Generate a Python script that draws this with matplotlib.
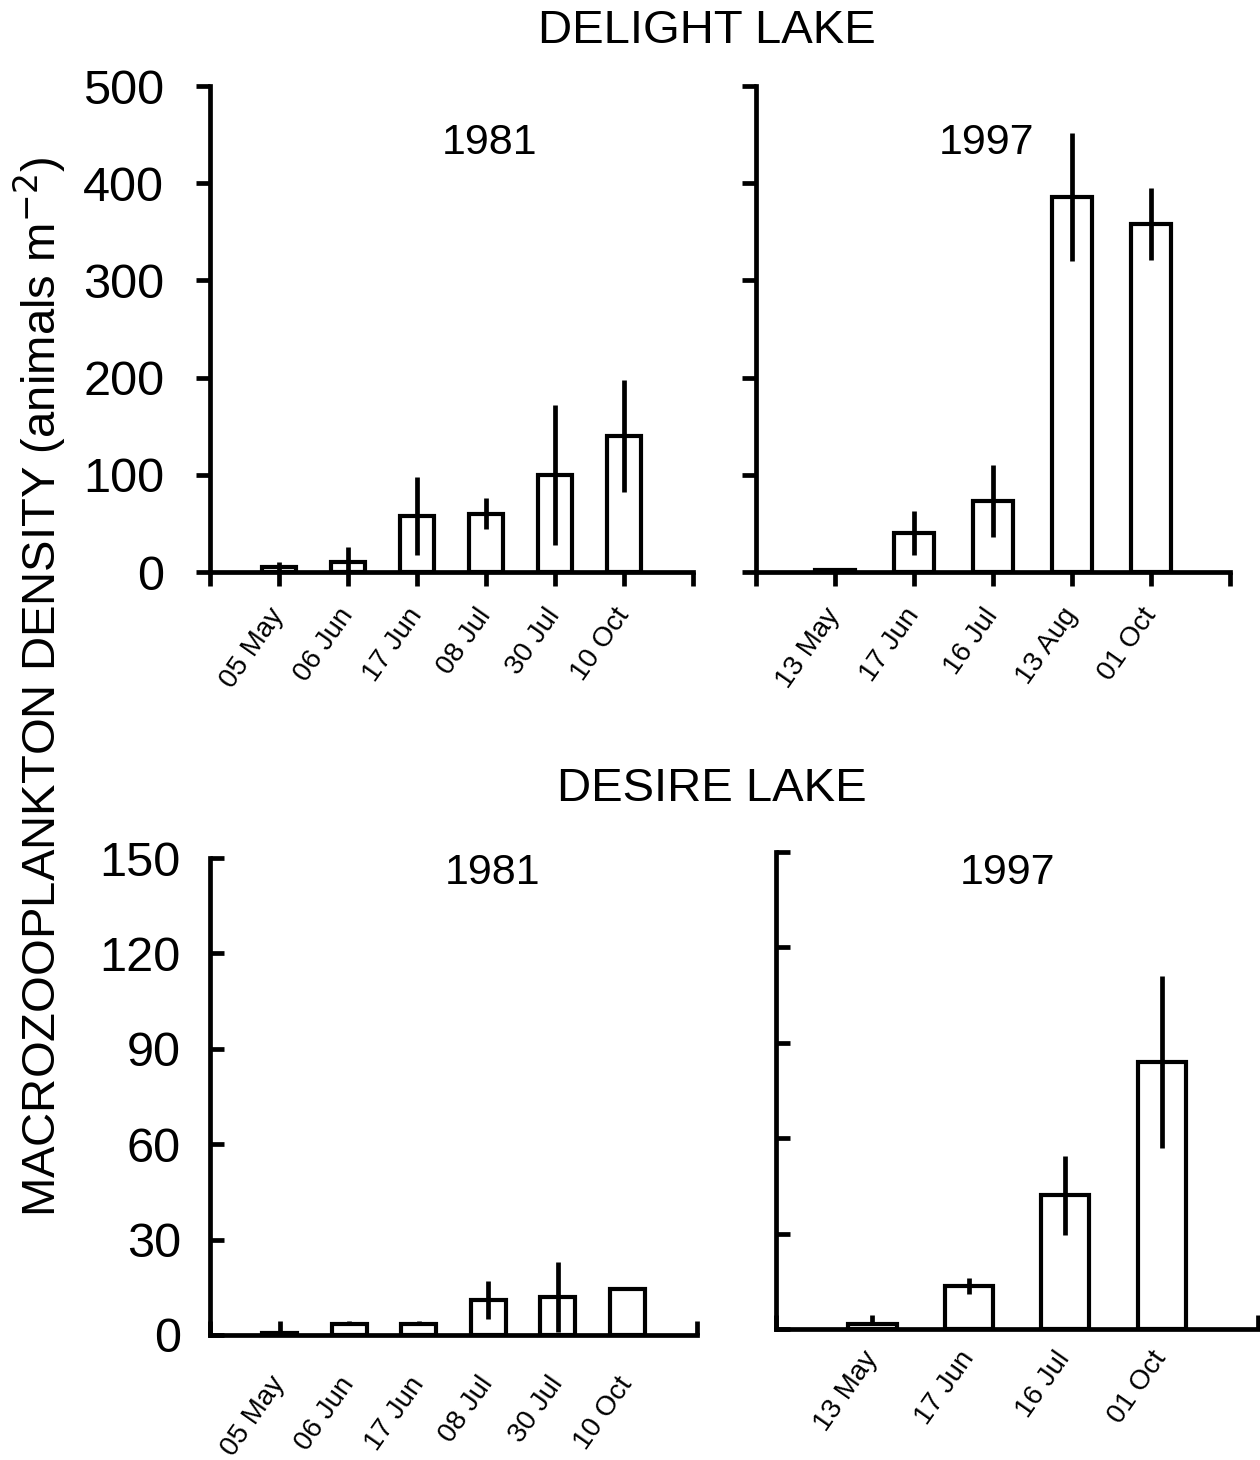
import matplotlib
matplotlib.use('Agg')
import matplotlib.pyplot as plt
import matplotlib.transforms as mtransforms

plt.rcParams['font.family'] = ['Liberation Sans', 'DejaVu Sans']

# Delight Lake
delight_81_dates = ['05 May', '06 Jun', '17 Jun', '08 Jul', '30 Jul', '10 Oct']
delight_81_vals = [5, 10, 58, 60, 100, 140]
delight_81_err = [5, 16, 40, 16, 72, 58]

delight_97_dates = ['13 May', '17 Jun', '16 Jul', '13 Aug', '01 Oct']
delight_97_vals = [2, 40, 73, 386, 358]
delight_97_err = [1, 23, 37, 66, 37]

# Desire Lake
desire_81_dates = ['05 May', '06 Jun', '17 Jun', '08 Jul', '30 Jul', '10 Oct']
desire_81_vals = [0.5, 3.5, 3.5, 11, 12, 14.5]
desire_81_err = [0, 0, 0, 6, 11, 0]

desire_97_dates = ['13 May', '17 Jun', '16 Jul', '01 Oct']
desire_97_vals = [1.5, 13.5, 42, 84]
desire_97_err = [0, 2.5, 12.5, 27]


def panel(fig, rect, dates, vals, err, ymax, yticks, show_ylab, tickdir,
          ylabpad, xlabpad, xshift):
    ax = fig.add_axes(rect)
    n = len(dates)
    xs = list(range(1, n + 1))
    ax.bar(xs, vals, width=0.5, color='white', edgecolor='black', linewidth=3.0,
           zorder=2)
    ax.errorbar(xs, vals, yerr=err, fmt='none', ecolor='black', elinewidth=3.4,
                capsize=0, zorder=3)
    ax.set_xlim(0, n + 1)
    ax.set_ylim(0, ymax)
    for s in ['top', 'right']:
        ax.spines[s].set_visible(False)
    for s in ['left', 'bottom']:
        ax.spines[s].set_linewidth(3.4)
    ax.set_xticks(range(0, n + 2))
    ax.set_xticklabels([''] + dates + [''], rotation=55, ha='right', va='center',
                       rotation_mode='anchor', fontsize=20)
    off = mtransforms.ScaledTranslation(xshift / 100, 0, fig.dpi_scale_trans)
    for lab in ax.get_xticklabels():
        lab.set_transform(lab.get_transform() + off)
    ax.set_yticks(yticks)
    if show_ylab:
        ax.set_yticklabels([str(t) for t in yticks], fontsize=35)
    else:
        ax.set_yticklabels([])
    ax.tick_params(axis='both', direction=tickdir, length=10, width=3.4, color='black')
    ax.tick_params(axis='y', pad=ylabpad)
    ax.tick_params(axis='x', pad=xlabpad)
    return ax


fig = plt.figure(figsize=(12.6, 14.6), dpi=100)

panel(fig, [210 / 1260, 1 - 572 / 1460, 483 / 1260, 486 / 1460],
      delight_81_dates, delight_81_vals, delight_81_err, 500,
      [0, 100, 200, 300, 400, 500], True, 'out', 23, 18, 10)
panel(fig, [756 / 1260, 1 - 572 / 1460, 474 / 1260, 486 / 1460],
      delight_97_dates, delight_97_vals, delight_97_err, 500,
      [0, 100, 200, 300, 400, 500], False, 'out', 23, 18, 2)
panel(fig, [210 / 1260, 1 - 1335 / 1460, 487 / 1260, 477 / 1460],
      desire_81_dates, desire_81_vals, desire_81_err, 150,
      [0, 30, 60, 90, 120, 150], True, 'in', 21, 32, -3)
panel(fig, [776 / 1260, 1 - 1329 / 1460, 482 / 1260, 477 / 1460],
      desire_97_dates, desire_97_vals, desire_97_err, 150,
      [0, 30, 60, 90, 120, 150], False, 'in', 21, 18, -5)

# panel year labels
fig.text(490 / 1260, 1 - 143 / 1460, '1981', ha='center', va='center', fontsize=31)
fig.text(987 / 1260, 1 - 143 / 1460, '1997', ha='center', va='center', fontsize=31)
fig.text(493 / 1260, 1 - 873 / 1460, '1981', ha='center', va='center', fontsize=31)
fig.text(1007 / 1260, 1 - 873 / 1460, '1997', ha='center', va='center', fontsize=31)

fig.text(707 / 1260, 1 - 31 / 1460, 'DELIGHT LAKE', ha='center', va='center', fontsize=34)
fig.text(712 / 1260, 1 - 789 / 1460, 'DESIRE LAKE', ha='center', va='center', fontsize=34)
fig.text(40 / 1260, 1 - 687 / 1460, 'MACROZOOPLANKTON DENSITY (animals m$^{-2}$)',
         rotation=90, ha='center', va='center', fontsize=34)

fig.savefig('out.png', dpi=100)
